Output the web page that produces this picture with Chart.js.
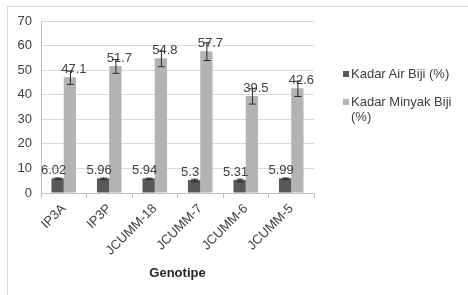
<!DOCTYPE html>
<html>
<head>
<meta charset="utf-8">
<script src="https://cdn.jsdelivr.net/npm/chart.js@4.4.0/dist/chart.umd.min.js"></script>
<style>
  body { margin: 0; background: #fff; font-family: "Liberation Sans", Arial, sans-serif; }
  #wrap { position: relative; width: 468px; height: 295px; overflow: hidden; }
  #frame { position: absolute; left: 7px; top: 6px; width: 480px; height: 310px; border: 1px solid #d9d9d9; }
  #chart { position: absolute; left: 0; top: 0; }
  #legend { position: absolute; left: 342px; top: 66px; width: 112px; font-size: 13px; color: #404040; line-height: 15px; }
  .item { position: relative; padding-left: 9px; margin-bottom: 13px; }
  .box { position: absolute; left: 1px; top: 5px; width: 6px; height: 6px; }
</style>
</head>
<body>
<div id="wrap">
  <div id="frame"></div>
  <canvas id="chart" width="468" height="295"></canvas>
  <div id="legend"></div>
</div>
<script>
// data
const genotypes = ['IP3A', 'IP3P', 'JCUMM-18', 'JCUMM-7', 'JCUMM-6', 'JCUMM-5'];
const seriesNames = ['Kadar Air Biji (%)', 'Kadar Minyak Biji (%)'];
const airValues = [6.02, 5.96, 5.94, 5.3, 5.31, 5.99];
const airErrors = [0.3, 0.3, 0.3, 0.5, 0.5, 0.3];
const minyakValues = [47.1, 51.7, 54.8, 57.7, 39.5, 42.6];
const minyakErrors = [2.7, 2.8, 3.2, 3.6, 3.1, 3.1];
const yTicks = [0, 10, 20, 30, 40, 50, 60, 70];

const colors = ['#595959', '#b3b3b3'];
const textColor = '#404040';
const font = '"Liberation Sans", Arial, sans-serif';

// error bars + value labels
const barExtras = {
  id: 'barExtras',
  afterDatasetsDraw(chart) {
    const ctx = chart.ctx;
    const y = chart.scales.y;
    chart.data.datasets.forEach((ds, di) => {
      const meta = chart.getDatasetMeta(di);
      meta.data.forEach((bar, i) => {
        const v = ds.data[i], e = ds.errors[i];
        const top = y.getPixelForValue(v + e), bot = y.getPixelForValue(v - e);
        ctx.save();
        ctx.strokeStyle = '#262626';
        ctx.lineWidth = 1;
        ctx.beginPath();
        ctx.moveTo(bar.x + 0.5, top); ctx.lineTo(bar.x + 0.5, bot);
        ctx.moveTo(bar.x - 3, top + 0.5); ctx.lineTo(bar.x + 4, top + 0.5);
        ctx.moveTo(bar.x - 3, bot + 0.5); ctx.lineTo(bar.x + 4, bot + 0.5);
        ctx.stroke();
        ctx.fillStyle = textColor;
        ctx.font = '13px ' + font;
        ctx.textAlign = 'center';
        ctx.textBaseline = 'bottom';
        ctx.fillText(String(v), bar.x + (di === 0 ? -4 : 4), bar.y - 1);
        ctx.restore();
      });
    });
  }
};

const chart = new Chart(document.getElementById('chart'), {
  type: 'bar',
  data: {
    labels: genotypes,
    datasets: [
      { label: seriesNames[0], data: airValues, errors: airErrors, backgroundColor: colors[0] },
      { label: seriesNames[1], data: minyakValues, errors: minyakErrors, backgroundColor: colors[1] }
    ]
  },
  options: {
    responsive: false,
    animation: false,
    layout: { padding: { top: 21, left: 7, right: 154, bottom: 10 } },
    datasets: { bar: { categoryPercentage: 0.54, barPercentage: 1 } },
    plugins: { legend: { display: false }, tooltip: { enabled: false } },
    scales: {
      x: {
        grid: { drawOnChartArea: false, color: '#bfbfbf', tickLength: 5 },
        border: { color: '#bfbfbf' },
        ticks: { color: textColor, font: { size: 13, family: font }, minRotation: 45, maxRotation: 45, padding: 3 },
        title: { display: true, text: 'Genotipe', color: '#262626', font: { size: 13, weight: 'bold', family: font }, padding: { top: 6 } },
        afterFit(scale) { scale.height = 92; scale.paddingRight = 0; }
      },
      y: {
        min: 0, max: 70,
        afterBuildTicks(scale) { scale.ticks = yTicks.map(v => ({ value: v })); },
        grid: { color: '#d9d9d9', drawTicks: false },
        border: { color: '#bfbfbf' },
        ticks: { color: textColor, font: { size: 13, family: font }, padding: 9 },
        afterFit(scale) { scale.width = 34; }
      }
    }
  },
  plugins: [barExtras]
});

// legend as html so the second label can wrap like the original
const legend = document.getElementById('legend');
seriesNames.forEach((name, i) => {
  const item = document.createElement('div');
  item.className = 'item';
  item.innerHTML = '<span class="box" style="background:' + colors[i] + '"></span>' + name;
  legend.appendChild(item);
});
</script>
</body>
</html>
